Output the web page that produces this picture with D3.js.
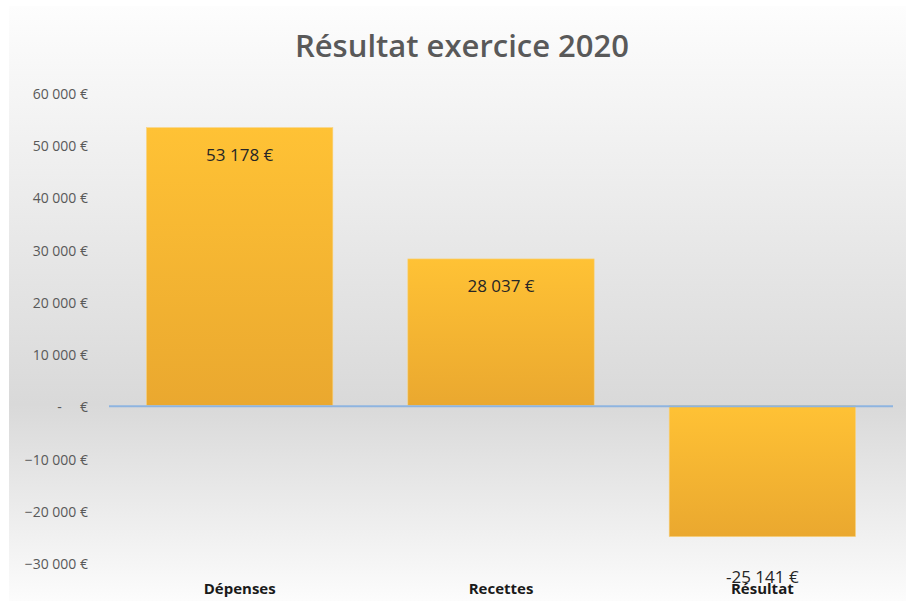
<!DOCTYPE html>
<html>
<head>
<meta charset="utf-8">
<script src="https://cdn.jsdelivr.net/npm/d3@7"></script>
<style>
  html, body { margin: 0; padding: 0; background: #fff; }
  svg { display: block; font-family: "Open Sans", "DejaVu Sans", sans-serif; }
</style>
</head>
<body>
<div id="chart"></div>
<script>
// Data
const title = 'Résultat exercice 2020';
const categories = ['Dépenses', 'Recettes', 'Résultat'];
const values = [53178, 28037, -25141];
const tickValues = [60000, 50000, 40000, 30000, 20000, 10000, 0, -10000, -20000, -30000];

const W = 906, H = 601;
const margin = { top: 92, right: 13, bottom: 40, left: 109 };

const svg = d3.select('#chart').append('svg')
    .attr('width', W)
    .attr('height', H);

const defs = svg.append('defs');

// Background gradient (light at top/bottom, grey around zero line)
const bg = defs.append('linearGradient').attr('id', 'bgGrad')
    .attr('x1', 0).attr('y1', 0).attr('x2', 0).attr('y2', 1);
bg.append('stop').attr('offset', '0%').attr('stop-color', '#fdfdfd');
bg.append('stop').attr('offset', '67%').attr('stop-color', '#d9d9d9');
bg.append('stop').attr('offset', '100%').attr('stop-color', '#fcfcfc');

// Bar gradient
const bar = defs.append('linearGradient').attr('id', 'barGrad')
    .attr('x1', 0).attr('y1', 0).attr('x2', 0).attr('y2', 1);
bar.append('stop').attr('offset', '0%').attr('stop-color', '#ffc235');
bar.append('stop').attr('offset', '100%').attr('stop-color', '#eaa82f');

svg.append('rect')
    .attr('x', 9).attr('y', 6)
    .attr('width', W - 9).attr('height', H - 6)
    .attr('fill', 'url(#bgGrad)');

// Scales
const x = d3.scaleBand()
    .domain(categories)
    .range([margin.left, W - margin.right])
    .paddingInner(0.287)
    .paddingOuter(0.1435);

const y = d3.scaleLinear()
    .domain([-30000, 60000])
    .range([H - margin.bottom + 1, margin.top]);

// Title
svg.append('text')
    .attr('x', 462).attr('y', 57)
    .attr('text-anchor', 'middle')
    .attr('fill', '#595959')
    .style('font-size', '31px')
    .style('font-weight', 600)
    .text(title);

// Y axis labels (accounting format)
const fmt = d => d === 0 ? '-\u00a0\u00a0\u00a0\u00a0\u00a0€' : d3.format(',')(d).replace(/,/g, '\u00a0') + '\u00a0€';
const yAxis = d3.axisLeft(y).tickValues(tickValues).tickFormat(fmt).tickSize(0).tickPadding(0);
const gy = svg.append('g')
    .attr('transform', 'translate(88,2)')
    .call(yAxis);
gy.select('.domain').remove();
gy.selectAll('.tick text')
    .attr('fill', '#595959')
    .style('font-size', '14px')
    .style('font-family', '"Open Sans", sans-serif');

// Bars
const g = svg.append('g');
g.selectAll('.bar')
    .data(values)
    .enter().append('rect')
    .attr('class', 'bar')
    .attr('x', (d, i) => x(categories[i]))
    .attr('width', x.bandwidth())
    .attr('y', d => y(Math.max(0, d)))
    .attr('height', d => Math.abs(y(d) - y(0)))
    .attr('fill', 'url(#barGrad)')
    .attr('stroke', '#f8d27e')
    .attr('stroke-width', 0.6);

// Zero line
svg.append('line')
    .attr('x1', margin.left).attr('x2', W - margin.right)
    .attr('y1', y(0) + 1).attr('y2', y(0) + 1)
    .attr('stroke', '#8eb4e0')
    .attr('stroke-width', 2);

// Value labels
const vfmt = d => (d < 0 ? '-' : '') + d3.format(',')(Math.abs(d)).replace(/,/g, '\u00a0') + '\u00a0€';
g.selectAll('.val')
    .data(values)
    .enter().append('text')
    .attr('class', 'val')
    .attr('x', (d, i) => x(categories[i]) + x.bandwidth() / 2)
    .attr('y', d => d >= 0 ? y(d) + 33 : y(d) + 46)
    .attr('text-anchor', 'middle')
    .attr('fill', '#262626')
    .style('font-size', '17px')
    .text(vfmt);

// Category labels
const xAxis = d3.axisBottom(x).tickSize(0).tickPadding(0);
const gx = svg.append('g')
    .attr('transform', `translate(0,${H - 12})`)
    .call(xAxis);
gx.select('.domain').remove();
gx.selectAll('.tick text')
    .attr('fill', '#1a1a1a')
    .attr('dy', '0.3em')
    .style('font-size', '15px')
    .style('font-weight', 700)
    .style('font-family', '"Open Sans", sans-serif');
</script>
</body>
</html>
